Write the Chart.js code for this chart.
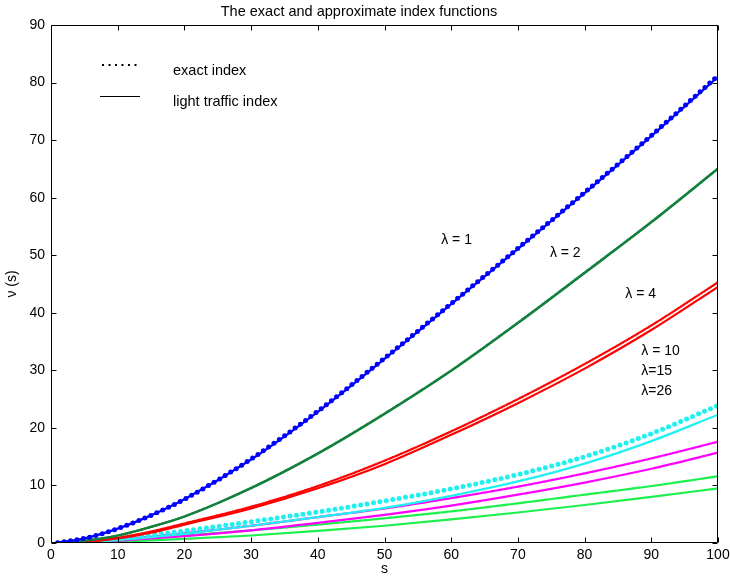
<!DOCTYPE html>
<html>
<head>
<meta charset="utf-8">
<script src="https://cdn.jsdelivr.net/npm/chart.js@4.4.1/dist/chart.umd.min.js"></script>
<style>
  html, body { margin: 0; padding: 0; background: #fff; }
</style>
</head>
<body>
<canvas id="chart" width="730" height="581"></canvas>
<script>
// Data: s on the x axis, nu(s) per lambda
const sValues = [1, 5, 10, 15, 20, 30, 40, 50, 60, 70, 80, 90, 100];

const exact1  = [0.05, 0.8, 2.5, 4.8, 7.6, 14.6, 22.9, 32.1, 41.6, 51.2, 60.9, 70.8, 81.2];
const light1  = [0.05, 0.8, 2.5, 4.8, 7.6, 14.5, 22.8, 32.0, 41.5, 51.1, 60.8, 70.7, 81.0];
const exact2  = [0.03, 0.4, 1.3, 2.8, 4.6, 9.6, 15.6, 22.5, 30.0, 38.3, 47.0, 55.8, 65.1];
const light2  = [0.03, 0.4, 1.3, 2.8, 4.6, 9.5, 15.5, 22.4, 29.9, 38.2, 46.9, 55.7, 65.0];
const exact4  = [0.02, 0.25, 0.9, 2.0, 3.4, 6.3, 9.9, 14.3, 19.4, 25.0, 31.1, 37.8, 45.3];
const light4  = [0.02, 0.2, 0.8, 1.8, 3.2, 6.0, 9.5, 13.7, 18.8, 24.3, 30.3, 37.0, 44.5];
const exact10 = [0.01, 0.3, 0.8, 1.4, 2.1, 3.7, 5.4, 7.3, 9.4, 11.9, 15.0, 19.0, 23.9];
const light10 = [0.01, 0.15, 0.5, 1.0, 1.6, 3.0, 4.5, 6.1, 8.2, 10.7, 13.8, 17.7, 22.3];
const exact15 = [0.01, 0.2, 0.6, 1.1, 1.7, 3.0, 4.5, 6.0, 7.8, 9.8, 12.1, 14.7, 17.6];
const light15 = [0.01, 0.12, 0.4, 0.8, 1.2, 2.2, 3.5, 4.9, 6.5, 8.4, 10.5, 12.9, 15.7];
const exact26 = [0.01, 0.15, 0.5, 0.9, 1.3, 2.2, 3.2, 4.3, 5.5, 6.9, 8.4, 9.9, 11.6];
const light26 = [0.005, 0.08, 0.25, 0.45, 0.7, 1.3, 2.1, 3.0, 4.1, 5.3, 6.6, 8.0, 9.5];

const xTicks = [0, 10, 20, 30, 40, 50, 60, 70, 80, 90, 100];
const yTicks = [0, 10, 20, 30, 40, 50, 60, 70, 80, 90];

const FONT = "'Liberation Sans', Arial, Helvetica, sans-serif";

const pts = arr => arr.map((v, i) => ({ x: sValues[i], y: v }));

function light(data, color) {
  return { data: pts(data), borderColor: color, borderWidth: 2.2, pointRadius: 0,
           cubicInterpolationMode: 'monotone', fill: false };
}
function exact(data, color, big) {
  return { data: pts(data), borderColor: color, borderWidth: big ? 5 : 2.4,
           borderDash: big ? [0, 6.5] : [0, 1.8], borderCapStyle: 'round',
           pointRadius: 0, cubicInterpolationMode: 'monotone', fill: false };
}

// frame, inward ticks, legend and lambda labels
const decorations = {
  id: 'decorations',
  afterDraw(chart) {
    const { ctx, chartArea: a, scales: { x, y } } = chart;
    const L = Math.round(a.left) + 0.5, R = Math.round(a.right) - 0.5;
    const T = Math.round(a.top) + 0.5, B = Math.round(a.bottom) - 0.5;
    ctx.save();
    ctx.strokeStyle = '#000';
    ctx.lineWidth = 1;
    ctx.beginPath();
    ctx.rect(L, T, R - L, B - T);
    xTicks.forEach(v => {
      const p = Math.round(x.getPixelForValue(v)) + 0.5;
      ctx.moveTo(p, B); ctx.lineTo(p, B - 5);
      ctx.moveTo(p, T); ctx.lineTo(p, T + 5);
    });
    yTicks.forEach(v => {
      const p = Math.round(y.getPixelForValue(v)) + 0.5;
      ctx.moveTo(L, p); ctx.lineTo(L + 5, p);
      ctx.moveTo(R, p); ctx.lineTo(R - 5, p);
    });
    ctx.stroke();

    // legend
    ctx.lineWidth = 2.2;
    ctx.setLineDash([2, 4.5]);
    ctx.beginPath(); ctx.moveTo(102, 65); ctx.lineTo(139, 65); ctx.stroke();
    ctx.setLineDash([]);
    ctx.lineWidth = 1;
    ctx.beginPath(); ctx.moveTo(100, 96.5); ctx.lineTo(140, 96.5); ctx.stroke();
    ctx.fillStyle = '#000';
    ctx.font = '14.5px ' + FONT;
    ctx.textBaseline = 'middle';
    ctx.textAlign = 'left';
    ctx.fillText('exact index', 173, 71);
    ctx.fillText('light traffic index', 173, 102);

    // lambda labels
    ctx.font = '14px ' + FONT;
    [['λ = 1', 58.5, 52.6], ['λ = 2', 74.8, 50.4], ['λ = 4', 86.1, 43.3],
     ['λ = 10', 88.5, 33.4], ['λ=15', 88.5, 29.9], ['λ=26', 88.5, 26.4]]
      .forEach(([t, sx, vy]) => ctx.fillText(t, x.getPixelForValue(sx), y.getPixelForValue(vy)));
    ctx.restore();
  }
};

new Chart(document.getElementById('chart'), {
  type: 'line',
  data: {
    datasets: [
      light(light1, '#0000ff'),  exact(exact1, '#0000ff', true),
      light(light2, '#13803c'),  exact(exact2, '#13803c', false),
      light(light4, '#ff0000'),  exact(exact4, '#ff0000', false),
      light(light10, '#22f0f0'), exact(exact10, '#22f0f0', true),
      light(light15, '#ff00ff'), exact(exact15, '#ff00ff', false),
      light(light26, '#1cf04c'), exact(exact26, '#1cf04c', false)
    ]
  },
  options: {
    responsive: false,
    animation: false,
    layout: { padding: { left: 0, right: 12, top: 0, bottom: 0 } },
    plugins: {
      legend: { display: false },
      tooltip: { enabled: false },
      title: {
        display: true,
        text: 'The exact and approximate index functions',
        color: '#000',
        font: { family: FONT, size: 14.5, weight: 'normal' },
        padding: { top: 3, bottom: 4.6 }
      }
    },
    scales: {
      x: {
        type: 'linear', min: 0, max: 100,
        grid: { display: false, drawTicks: false },
        border: { display: false },
        afterFit: s => { s.height = 38; s.paddingLeft = 0; s.paddingRight = 0; },
        afterBuildTicks: s => { s.ticks = xTicks.map(v => ({ value: v })); },
        ticks: { color: '#000', padding: 4, maxRotation: 0, font: { family: FONT, size: 14 } },
        title: { display: true, text: 's', color: '#000', padding: { top: 0, bottom: 3 },
                 font: { family: FONT, size: 14 } }
      },
      y: {
        min: 0, max: 90,
        grid: { display: false, drawTicks: false },
        border: { display: false },
        afterFit: s => { s.width = 51; s.paddingTop = 0; s.paddingBottom = 0; },
        afterBuildTicks: s => { s.ticks = yTicks.map(v => ({ value: v })); },
        ticks: { color: '#000', padding: 6, font: { family: FONT, size: 14 } },
        title: { display: true, text: 'ν (s)', color: '#000', padding: { top: 4, bottom: 0 },
                 font: { family: FONT, size: 14 } }
      }
    }
  },
  plugins: [decorations]
});
</script>
</body>
</html>
